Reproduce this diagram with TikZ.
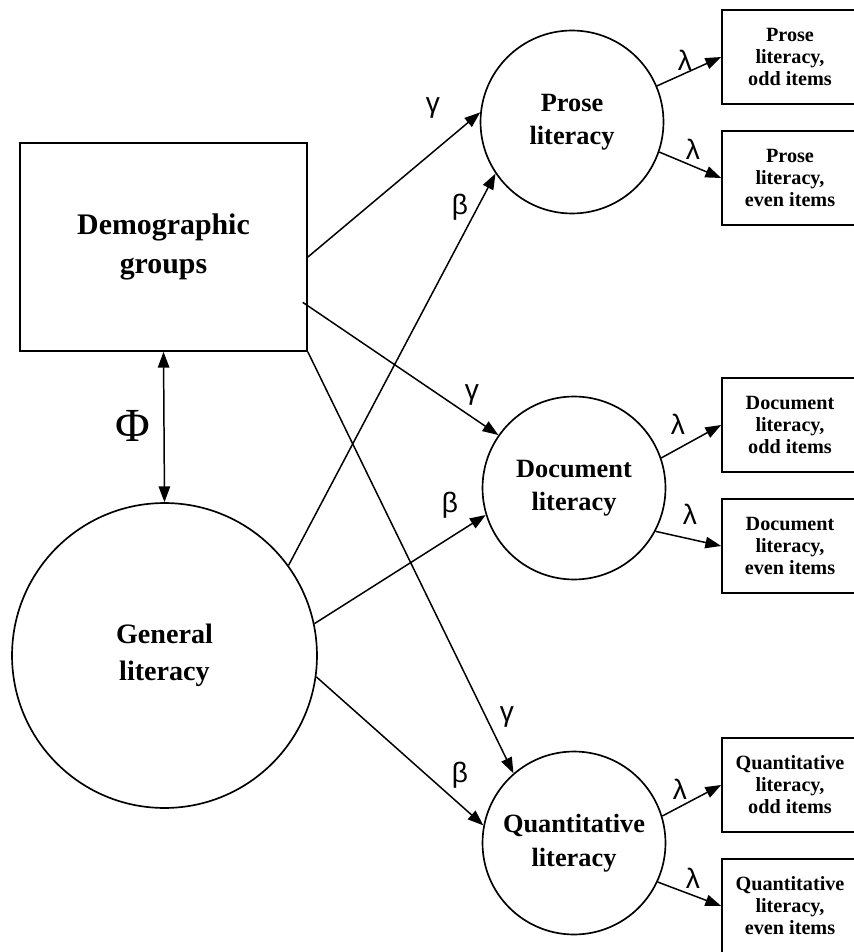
\documentclass[tikz,border=0pt]{standalone}
\usepackage{fontspec}
\setmainfont{Liberation Serif}
\newfontfamily\greekfont{Liberation Sans}
\usetikzlibrary{arrows.meta,calc}

\begin{document}
\begin{tikzpicture}[x=0.02cm, y=-0.02cm,
	latent/.style={circle, draw, line width=0.95pt, align=center, inner sep=0pt,
		minimum size=3.66cm, font=\bfseries\fontsize{15}{19}\selectfont},
	observed/.style={rectangle, draw, line width=0.95pt, align=center, inner sep=0pt,
		minimum width=2.72cm, minimum height=1.88cm, font=\bfseries\fontsize{11.5}{12.5}\selectfont},
	link/.style={line width=0.85pt, -{Triangle[length=9pt,width=6.5pt]}},
	coef/.style={inner sep=0pt, font=\greekfont\fontsize{16}{16}\selectfont}
	]
	\clip (0,0) rectangle (854,952);

	% exogenous part
	\node[rectangle, draw, line width=0.95pt, align=center, minimum width=5.74cm, minimum height=4.16cm,
		font=\bfseries\fontsize{17}{22}\selectfont] (demo) at (163.5,247) {Demographic\\groups};
	\node[latent, minimum size=6.1cm, font=\bfseries\fontsize{16}{21}\selectfont] (general) at (164.5,655.5) {General\\literacy};
	\draw[line width=0.85pt, {Triangle[length=9pt,width=6.5pt]}-{Triangle[length=9pt,width=6.5pt]}] (demo.south) -- (general.north);
	\node[font=\fontsize{27}{27}\selectfont] (phi) at (133,426) {Φ};

	% latent literacy scales
	\node[latent] (prose) at (572,122) {Prose\\literacy};
	\node[latent] (doc) at (574,488) {Document\\literacy};
	\node[latent] (quant) at (574,843) {Quantitative\\literacy};

	% indicators
	\node[observed] (proseodd) at (790,57) {Prose\\literacy,\\odd items};
	\node[observed] (proseeven) at (790,178) {Prose\\literacy,\\even items};
	\node[observed] (docodd) at (790,425) {Document\\literacy,\\odd items};
	\node[observed] (doceven) at (790,546) {Document\\literacy,\\even items};
	\node[observed] (quantodd) at (790,785) {Quantitative\\literacy,\\odd items};
	\node[observed] (quanteven) at (790,906) {Quantitative\\literacy,\\even items};

	% gamma paths
	\draw[link] (demo.-4) -- (prose.174);
	\draw[link] ($(demo.-21)+(-5,0)$) -- (doc.145);
	\draw[link] (demo.south east) -- (quant.131);
	\node[coef] at (433,108) {γ};
	\node[coef] at (472,395) {γ};
	\node[coef] at (507,717) {γ};

	% beta paths
	\draw[link] (general.36) -- (prose.214);
	\draw[link] (general.12) -- (doc.197);
	\draw[link] (general.-8) -- (quant.169);
	\node[coef] at (460,207) {β};
	\node[coef] at (450,505) {β};
	\node[coef] at (460,775) {β};

	% lambda paths
	\draw[link] (prose.23) -- (proseodd.west);
	\draw[link] (prose.-19) -- (proseeven.west);
	\draw[link] (doc.19) -- (docodd.west);
	\draw[link] (doc.-28) -- (doceven.west);
	\draw[link] (quant.17) -- (quantodd.west);
	\draw[link] (quant.-25) -- (quanteven.west);
	\node[coef] at (685,60) {λ};
	\node[coef] at (693,149) {λ};
	\node[coef] at (678,424) {λ};
	\node[coef] at (690,514) {λ};
	\node[coef] at (680,789) {λ};
	\node[coef] at (693,878) {λ};
\end{tikzpicture}
\end{document}
